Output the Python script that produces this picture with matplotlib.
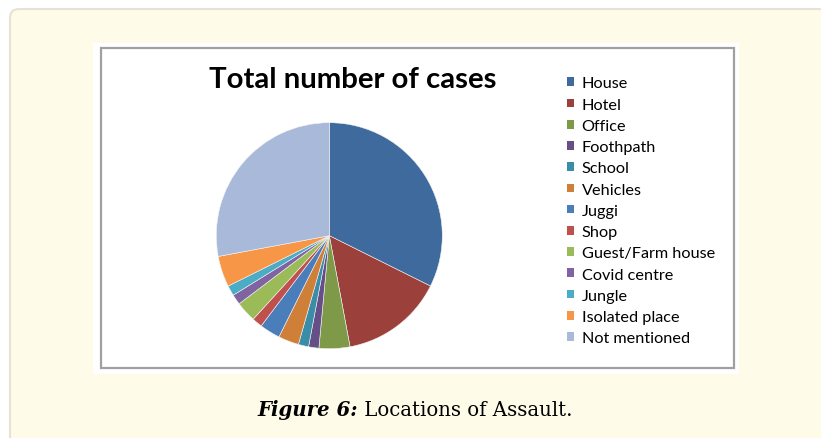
import matplotlib
matplotlib.use('Agg')
import matplotlib.pyplot as plt
from matplotlib.patches import FancyBboxPatch, Rectangle

W, H = 821, 439

locations = ['House', 'Hotel', 'Office', 'Foothpath', 'School', 'Vehicles', 'Juggi',
             'Shop', 'Guest/Farm house', 'Covid centre', 'Jungle', 'Isolated place',
             'Not mentioned']
cases = [22, 10, 3, 1, 1, 2, 2, 1, 2, 1, 1, 3, 19]
colors = ['#3E6A9D', '#9C403C', '#7E9A48', '#664F87', '#3A8DA6', '#D07F38', '#4A7EBB',
          '#C0504D', '#9BBB59', '#8064A2', '#4BACC6', '#F79646', '#A8B9D9']

fig = plt.figure(figsize=(W / 100, H / 100), dpi=100)
fig.patch.set_facecolor('white')

# background axes in pixel units (y down)
bg = fig.add_axes([0, 0, 1, 1])
bg.set_xlim(0, W)
bg.set_ylim(H, 0)
bg.axis('off')

bg.add_patch(FancyBboxPatch((10, 10), W + 40, H + 40,
                            boxstyle='round,pad=0,rounding_size=9',
                            facecolor='#FFFBE9', edgecolor='#E4E3D6', linewidth=1.5))
bg.add_patch(Rectangle((93, 44), 646, 331, facecolor='white', edgecolor='none'))
bg.add_patch(Rectangle((101, 49), 633, 320, facecolor='white', edgecolor='#A0A0A0',
                       linewidth=1.6))

bg.text(352.5, 80, 'Total number of cases', family='Lato', weight='bold',
        fontsize=21.2, ha='center', va='center', color='black')

# caption
fig.canvas.draw()
r = fig.canvas.get_renderer()
t1 = bg.text(0, 416.5, 'Figure 6:', family='DejaVu Serif', style='italic',
             weight='bold', fontsize=14.2, va='baseline', color='black')
t2 = bg.text(0, 416.5, ' Locations of Assault.', family='DejaVu Serif',
             fontsize=14.2, va='baseline', color='black')
w1 = t1.get_window_extent(r).width
w2 = t2.get_window_extent(r).width
x0 = 415 - (w1 + w2) / 2
t1.set_x(x0)
t2.set_x(x0 + w1)

# pie
cx, cy, rad = 329.3, 236.7, 113
ax = fig.add_axes([(cx - rad) / W, (H - cy - rad) / H, 2 * rad / W, 2 * rad / H])
wedges, _ = ax.pie(cases, colors=colors, startangle=90, counterclock=False,
                   wedgeprops=dict(edgecolor='#F4F4F4', linewidth=0.4))
ax.set_xlim(-1, 1)
ax.set_ylim(-1, 1)

leg = fig.legend(wedges, locations, loc='upper left',
                 bbox_to_anchor=(567 / W, 1 - 77.5 / H), frameon=False,
                 prop={'family': 'Lato', 'size': 11.7},
                 handlelength=0.45, handleheight=0.45, handletextpad=0.45,
                 labelspacing=0.445, borderpad=0, borderaxespad=0)
for h in leg.legend_handles:
    h.set_edgecolor('none')

fig.savefig('out.png', dpi=100)
